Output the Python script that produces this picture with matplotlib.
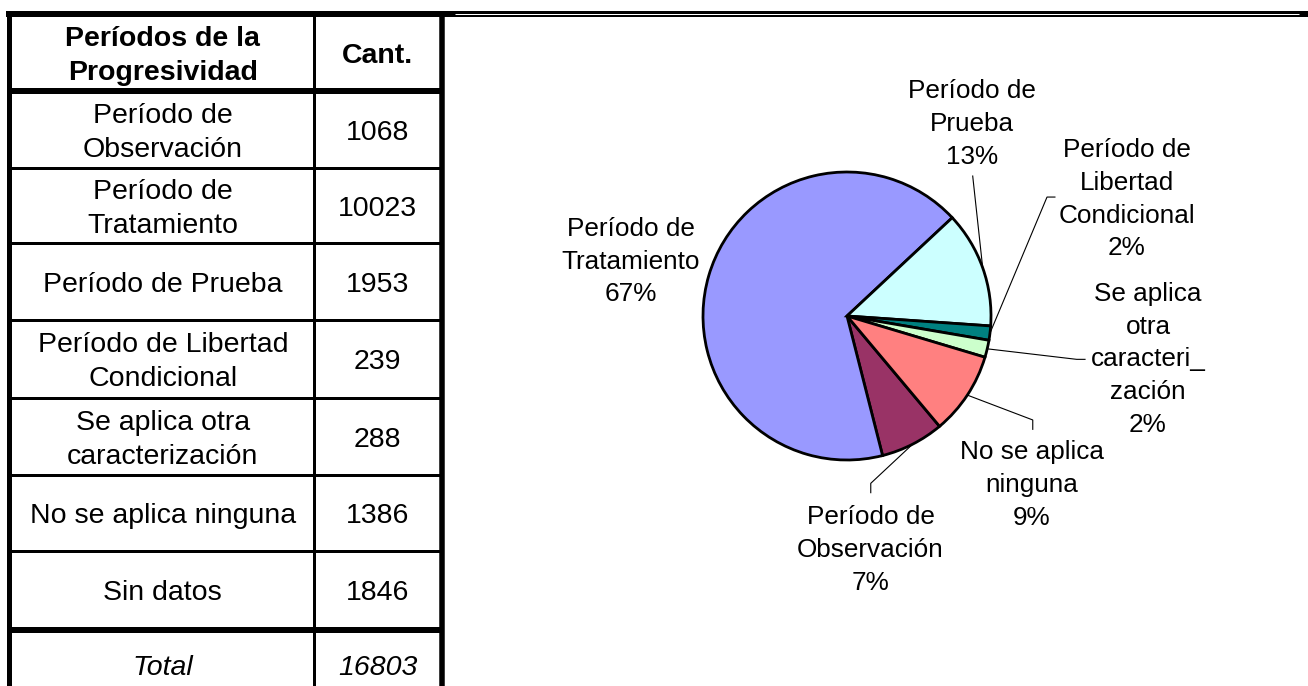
import numpy as np
import matplotlib
matplotlib.use("Agg")
import matplotlib.pyplot as plt

plt.rcParams['font.family'] = ['Liberation Sans', 'DejaVu Sans']

############ DATA ########################

# table rows (first column text, second column count)
row_names = ["Período de\nObservación", "Período de\nTratamiento", "Período de Prueba",
             "Período de Libertad\nCondicional", "Se aplica otra\ncaracterización",
             "No se aplica ninguna", "Sin datos"]
row_counts = [1068, 10023, 1953, 239, 288, 1386, 1846]
total_count = 16803

# pie uses everything except "Sin datos"
pie_names = ["Período de\nObservación", "Período de\nTratamiento", "Período de\nPrueba",
             "Período de\nLibertad\nCondicional", "Se aplica\notra\ncaracteri_\nzación",
             "No se aplica\nninguna"]
pie_values = row_counts[:6]
pie_colors = ["#993366", "#9999FF", "#CCFFFF", "#008080", "#CCFFCC", "#FF8080"]

############ FIGURE ########################

W, H = 1308, 686
fig = plt.figure(figsize=(W / 100, H / 100), dpi=100)
ax = fig.add_axes([0, 0, 1, 1])
ax.set_xlim(0, W)
ax.set_ylim(H, 0)
ax.axis("off")

px = 72 / 100  # pixels -> points

############ TABLE ########################

x_left, x_mid, x_right = 9.2, 313.7, 442
row_edges = [14, 91.3, 168.3, 243, 320, 398.3, 475, 550.7, 629.5, 706]

# top band over the whole width, with a thin white line over the chart part
ax.plot([6, W], [14, 14], color="black", lw=6 * px, solid_capstyle="butt")
ax.plot([455, 1299], [13.5, 13.5], color="white", lw=1 * px, solid_capstyle="butt")

# vertical lines
ax.plot([x_left, x_left], [11, H], color="black", lw=5 * px, solid_capstyle="butt")
ax.plot([x_mid, x_mid], [11, H], color="black", lw=3 * px, solid_capstyle="butt")
ax.plot([x_right, x_right], [11, H], color="black", lw=5.5 * px, solid_capstyle="butt")

# horizontal lines (thick under the header and above the total)
for i, y in enumerate(row_edges[1:-1]):
    thick = i == 0 or i == len(row_edges) - 3
    ax.plot([x_left, x_right], [y, y], color="black",
            lw=(6 if thick else 3) * px, solid_capstyle="butt")

c1 = (12 + x_mid) / 2
c2 = (x_mid + x_right) / 2
tfs = 20.5
ls = 1.39
dy = 3  # text sits a little lower than the cell centre

yc = (row_edges[0] + row_edges[1]) / 2 + dy
ax.text(c1, yc, "Períodos de la\nProgresividad", ha="center", va="center",
        fontsize=tfs, fontweight="bold", linespacing=ls)
ax.text(c2, yc, "Cant.", ha="center", va="center", fontsize=tfs, fontweight="bold")

for i, (name, cnt) in enumerate(zip(row_names, row_counts)):
    yc = (row_edges[i + 1] + row_edges[i + 2]) / 2 + dy
    ax.text(c1, yc, name, ha="center", va="center", fontsize=tfs, linespacing=ls)
    ax.text(c2, yc, str(cnt), ha="center", va="center", fontsize=tfs)

yc = (row_edges[-2] + row_edges[-1]) / 2
ax.text(c1, yc, "Total", ha="center", va="center", fontsize=tfs, style="italic")
ax.text(c2, yc, str(total_count), ha="center", va="center", fontsize=tfs, style="italic")

############ PIE ########################

cx, cy, r = 847, 316, 144
pax = fig.add_axes([(cx - r) / W, (H - cy - r) / H, 2 * r / W, 2 * r / H])
wedges, _ = pax.pie(pie_values, colors=pie_colors, startangle=-50, counterclock=False,
                    radius=1, wedgeprops=dict(edgecolor="black", linewidth=2.0))
pax.set_xlim(-1, 1)
pax.set_ylim(-1, 1)
pax.set_aspect("equal")
pax.axis("off")

pie_total = sum(pie_values)
pct = [f"{round(v / pie_total * 100)}%" for v in pie_values]

# label centres and leader-line bend points (pie radius units)
label_xy = [(0.163, -1.625), (-1.50, 0.378), (0.868, 1.336),
            (1.944, 0.812), (2.090, -0.302), (1.285, -1.175)]
leader_pts = [[(0.165, -1.162), (0.165, -1.227)],
              None,
              [(0.873, 0.972)],
              [(1.389, 0.826), (1.444, 0.826)],
              [(1.595, -0.301), (1.653, -0.301)],
              [(1.290, -0.722), (1.290, -0.787)]]

for w, name, p, (lx, ly), pts in zip(wedges, pie_names, pct, label_xy, leader_pts):
    pax.text(lx, ly, name + "\n" + p, ha="center", va="center", fontsize=18.8,
             linespacing=1.47, clip_on=False)
    if pts is None:
        continue
    a = np.deg2rad((w.theta1 + w.theta2) / 2)
    xs = [np.cos(a)] + [q[0] for q in pts]
    ys = [np.sin(a)] + [q[1] for q in pts]
    pax.plot(xs, ys, color="black", lw=0.8, clip_on=False)

fig.savefig("out.png", dpi=100)
